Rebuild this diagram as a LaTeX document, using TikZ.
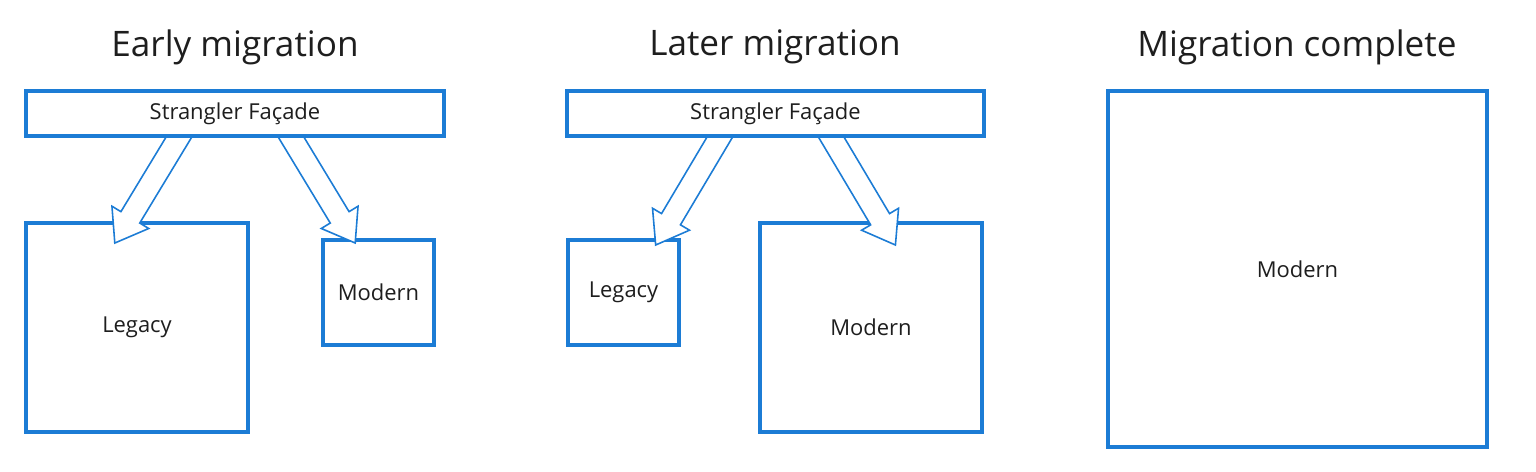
\documentclass[tikz,border=0pt]{standalone}
\usepackage{fontspec}
\setmainfont{Open Sans}
\usetikzlibrary{calc}
\definecolor{facadeblue}{RGB}{28,124,213}
\definecolor{inktext}{RGB}{30,30,30}
\pgfdeclarelayer{front}
\pgfsetlayers{main,front}

\tikzset{
    sysbox/.style={draw=facadeblue, line width=2.2pt, fill=white,
        inner sep=0pt, outer sep=0pt, text=inktext,
        font=\fontsize{12.5}{14}\selectfont},
    titletext/.style={text=inktext, font=\fontsize{20}{24}\selectfont},
    hollow/.style={draw=facadeblue, line width=0.9pt, fill=white, line join=miter}
}

\begin{document}
\begin{tikzpicture}[x=0.02cm, y=-0.02cm]
\useasboundingbox (0,0) rectangle (1536,472);

% Titles
\node[titletext] (titleA) at (235,47) {Early migration};
\node[titletext] (titleB) at (775,47) {Later migration};
\node[titletext] (titleC) at (1297,47) {Migration complete};

% Early migration
\begin{pgfonlayer}{front}
\node[sysbox, minimum width=8.36cm, minimum height=0.9cm] (facA) at (235,113.5) {Strangler Façade};
\end{pgfonlayer}
\node[sysbox, minimum width=4.44cm, minimum height=4.18cm] (legA) at (137,327.5) {Legacy};
\node[sysbox, minimum width=2.22cm, minimum height=2.1cm] (modA) at (378.5,292.5) {Modern};

% Later migration
\begin{pgfonlayer}{front}
\node[sysbox, minimum width=8.34cm, minimum height=0.9cm] (facB) at (775.5,113.5) {Strangler Façade};
\end{pgfonlayer}
\node[sysbox, minimum width=2.22cm, minimum height=2.1cm] (legB) at (623.5,292.5) {Legacy};
\node[sysbox, minimum width=4.44cm, minimum height=4.18cm] (modB) at (871,327.5) {Modern};

% Migration complete
\node[sysbox, minimum width=7.58cm, minimum height=7.12cm] (modC) at (1297.5,269) {Modern};

% Arrow ends
\coordinate (fromA1) at ($(facA.west)!0.40!(facA.east)$);
\coordinate (fromA2) at ($(facA.west)!0.60!(facA.east)$);
\coordinate (fromB1) at ($(facB.west)!0.40!(facB.east)$);
\coordinate (fromB2) at ($(facB.west)!0.60!(facB.east)$);
\coordinate (toA1) at ($(legA.north west)!0.40!(legA.north east) + (0,20)$);
\coordinate (toA2) at ($(modA.north west)!0.29!(modA.north east) + (0,3)$);
\coordinate (toB1) at ($(legB.north west)!0.79!(legB.north east) + (0,5)$);
\coordinate (toB2) at ($(modB.north west)!0.61!(modB.north east) + (0,22)$);

% Hollow arrows
\foreach \s/\t in {fromA1/toA1, fromA2/toA2, fromB1/toB1, fromB2/toB2} {
    \coordinate (headbase) at ($(\t)!0.6cm!(\s)$);
    \draw[hollow] ($(\s)!0.22cm!90:(\t)$) -- ($(headbase)!0.22cm!-90:(\s)$)
        -- ($(headbase)!0.43cm!-90:(\s)$) -- (\t)
        -- ($(headbase)!0.43cm!90:(\s)$) -- ($(headbase)!0.22cm!90:(\s)$)
        -- ($(\s)!0.22cm!-90:(\t)$) -- cycle;
}

\end{tikzpicture}
\end{document}
